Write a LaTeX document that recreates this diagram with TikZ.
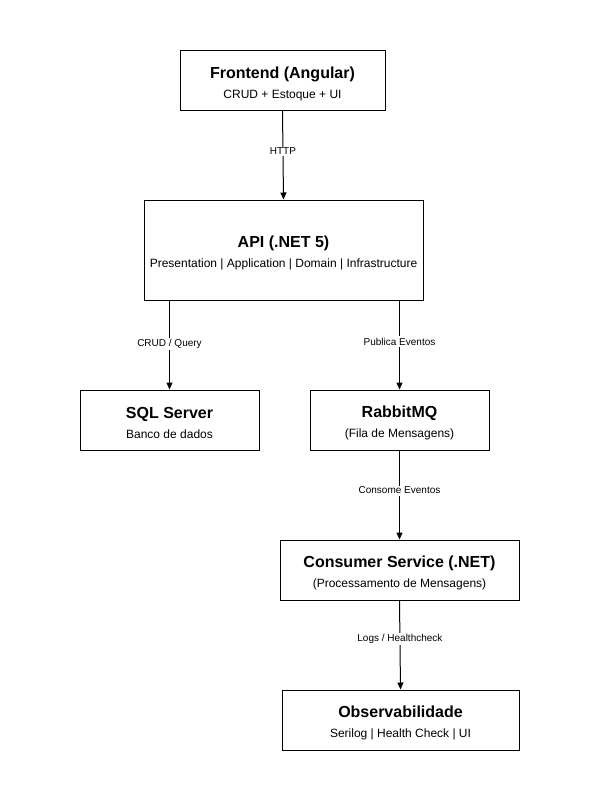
\documentclass[tikz,border=0pt]{standalone}
\usepackage{fontspec}
\setmainfont{Liberation Sans}
\usetikzlibrary{arrows.meta}
\begin{document}
\begin{tikzpicture}[x=1pt,y=-1pt,
  box/.style={draw=black,line width=1pt,fill=white,align=center,inner sep=0pt,
    font=\fontsize{12}{20}\selectfont},
  conn/.style={draw=black,line width=1pt,-{Triangle[width=6pt,length=7pt]}},
  lbl/.style={fill=white,inner sep=1.5pt,font=\fontsize{10}{12}\selectfont}]
\useasboundingbox[fill=white] (0,0) rectangle (600,800);
\newcommand{\ttl}[1]{\rule{0pt}{18pt}{\fontsize{16}{20}\selectfont\bfseries #1}}
\node[box,minimum width=205pt,minimum height=59pt] (fe) at (282.5,80.5)
  {\ttl{Frontend (Angular)}\\CRUD + Estoque + UI};
\node[box,minimum width=279pt,minimum height=100pt] (api) at (283.5,250)
  {\ttl{API (.NET 5)}\\Presentation | Application | Domain | Infrastructure};
\node[box,minimum width=179pt,minimum height=60pt] (sql) at (169.5,420)
  {\ttl{SQL Server}\\Banco de dados};
\node[box,minimum width=179pt,minimum height=60pt] (rmq) at (399.5,420)
  {\ttl{RabbitMQ}\\(Fila de Mensagens)};
\node[box,minimum width=239pt,minimum height=60pt] (cs) at (399.5,570)
  {\ttl{Consumer Service (.NET)}\\(Processamento de Mensagens)};
\node[box,minimum width=237pt,minimum height=60pt] (obs) at (400.5,720)
  {\ttl{Observabilidade}\\Serilog | Health Check | UI};
\draw[conn] (fe.south) -- node[lbl,pos=0.46] {HTTP} (api.north);
\draw[conn] (sql.north |- api.south) -- node[lbl,pos=0.49] {CRUD / Query} (sql.north);
\draw[conn] (rmq.north |- api.south) -- node[lbl,pos=0.46] {Publica Eventos} (rmq.north);
\draw[conn] (rmq.south) -- node[lbl,pos=0.45] {Consome Eventos} (cs.north);
\draw[conn] (cs.south) -- node[lbl,pos=0.43] {Logs / Healthcheck} (obs.north);
\end{tikzpicture}
\end{document}
